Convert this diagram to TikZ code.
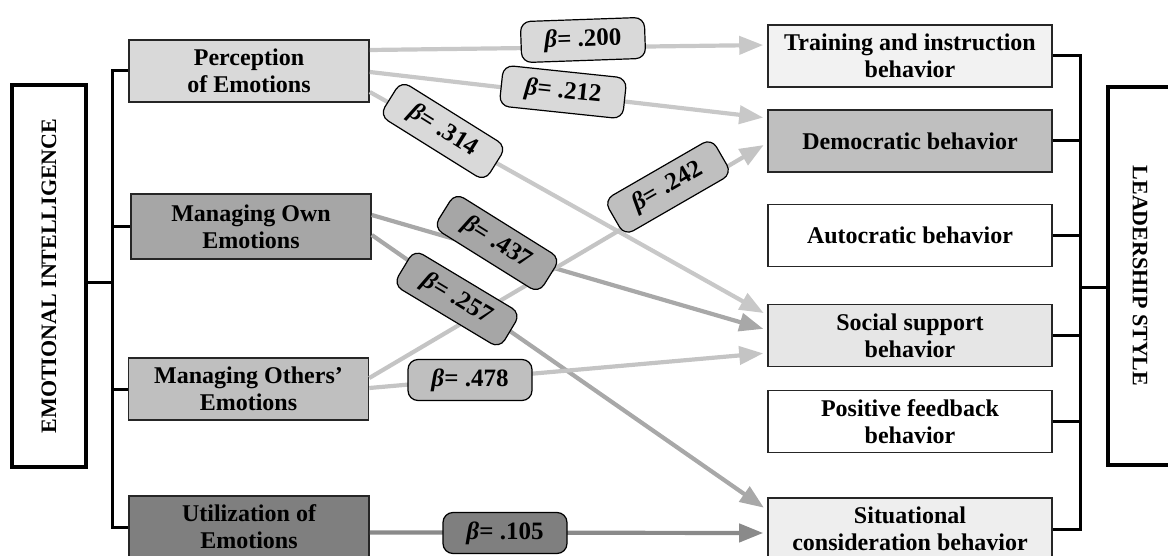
\documentclass[tikz,border=0pt]{standalone}
\usepackage{fontspec}
\setmainfont{Liberation Serif}
\usetikzlibrary{arrows.meta}

\definecolor{fPerc}{HTML}{D9D9D9}
\definecolor{fOwn}{HTML}{A6A6A6}
\definecolor{fOth}{HTML}{BFBFBF}
\definecolor{fUtil}{HTML}{7F7F7F}
\definecolor{fTrain}{HTML}{F2F2F2}
\definecolor{fDemo}{HTML}{BFBFBF}
\definecolor{fSoc}{HTML}{E6E6E6}
\definecolor{fSit}{HTML}{EEEEEE}
\definecolor{lPerc}{HTML}{C8C8C8}
\definecolor{lOwn}{HTML}{A8A8A8}
\definecolor{lOth}{HTML}{C4C4C4}
\definecolor{lUtil}{HTML}{8A8A8A}

\begin{document}
\begin{tikzpicture}[x=0.5pt,y=-0.5pt,
  box/.style={draw=black!85, line width=0.8pt, align=center, inner sep=0pt,
    minimum height=31pt, font=\fontsize{12}{13.5}\selectfont\bfseries},
  lbox/.style={box, minimum width=120pt},
  rbox/.style={box, minimum width=142pt},
  big/.style={draw=black, line width=1.6pt, fill=white, inner sep=0pt,
    font=\fontsize{11}{13}\selectfont\bfseries},
  brk/.style={draw=black, line width=1.5pt},
  arr/.style={line width=2.1pt, -{Triangle[length=12pt,width=9pt]}, shorten >=2pt},
  beta/.style={draw=black, line width=0.6pt, rounded corners=5pt, inner sep=0pt,
    minimum width=62pt, minimum height=20.5pt,
    font=\fontsize{12.5}{14}\selectfont\bfseries},
]
\clip (0,0) rectangle (1168,556);

% outer constructs
\node[big, rotate=90, minimum width=191pt, minimum height=37pt] (ei) at (49,276) {EMOTIONAL INTELLIGENCE};
\node[big, rotate=-90, minimum width=189pt, minimum height=32pt] (ls) at (1140,276) {LEADERSHIP STYLE};

% emotional intelligence dimensions
\node[lbox, fill=fPerc] (perc) at (249,71) {Perception\\of Emotions};
\node[lbox, fill=fOwn, minimum height=32.5pt] (own) at (251,226.5) {Managing Own\\Emotions};
\node[lbox, fill=fOth] (oth) at (248.5,389) {Managing Others'\\Emotions};
\node[lbox, fill=fUtil] (util) at (249,527) {Utilization of\\Emotions};

% leadership behaviours
\node[rbox, fill=fTrain] (train) at (910,56) {Training and instruction\\behavior};
\node[rbox, fill=fDemo] (demo) at (910,141) {Democratic behavior};
\node[rbox, fill=white] (auto) at (910,235.5) {Autocratic behavior};
\node[rbox, fill=fSoc] (soc) at (910,335.5) {Social support\\behavior};
\node[rbox, fill=white] (pos) at (910,421.5) {Positive feedback\\behavior};
\node[rbox, fill=fSit] (sit) at (910,529) {Situational\\consideration behavior};

% brackets
\coordinate (lx) at (112,0);
\coordinate (rx) at (1080,0);
\draw[brk] (perc.west) -| (lx |- util.west) -- (util.west);
\draw[brk] (own.west) -- (own.west -| lx);
\draw[brk] (oth.west) -- (oth.west -| lx);
\draw[brk] ([yshift=-3pt]ei.south) -- ([yshift=-3pt]ei.south -| lx);
\draw[brk] (train.east) -| (rx |- sit.east) -- (sit.east);
\draw[brk] (demo.east) -- (demo.east -| rx);
\draw[brk] (auto.east) -- (auto.east -| rx);
\draw[brk] (soc.east) -- (soc.east -| rx);
\draw[brk] (pos.east) -- (pos.east -| rx);
\draw[brk] ([yshift=-5.5pt]ls.south) -- ([yshift=-5.5pt]ls.south -| rx);

% paths
\draw[arr, lPerc] ([yshift=10.5pt]perc.east) -- ([yshift=5.5pt]train.west);
\draw[arr, lPerc] ([yshift=-0.5pt]perc.east) -- ([yshift=11.5pt]demo.west);
\draw[arr, lPerc] ([yshift=-10.5pt]perc.east) -- ([yshift=10.25pt]soc.west);
\draw[arr, lOwn] ([yshift=5.75pt]own.east) -- ([yshift=2.75pt]soc.west);
\draw[arr, lOwn] ([yshift=-4.25pt]own.east) -- ([yshift=9.5pt]sit.west);
\draw[arr, lOth] ([yshift=5.5pt]oth.east) -- ([yshift=-1pt]demo.west);
\draw[arr, lOth] ([yshift=0.5pt]oth.east) -- ([yshift=-8.75pt]soc.west);
\draw[arr, lUtil] ([yshift=-2.75pt]util.east) -- ([yshift=-2pt]sit.west);

% coefficients
\node[beta, fill=fPerc, rotate=2] (b200) at (583,40) {{\itshape β}= .200};
\node[beta, fill=fPerc, rotate=-6] (b212) at (563,92) {{\itshape β}= .212};
\node[beta, fill=fPerc, rotate=-32] (b314) at (443,131) {{\itshape β}= .314};
\node[beta, fill=fOwn, rotate=-32] (b437) at (497,243) {{\itshape β}= .437};
\node[beta, fill=fOwn, rotate=-31] (b257) at (457,299) {{\itshape β}= .257};
\node[beta, fill=fOth, rotate=30] (b242) at (668,187) {{\itshape β}= .242};
\node[beta, fill=fOth] (b478) at (470,380) {{\itshape β}= .478};
\node[beta, fill=fUtil] (b105) at (505,533) {{\itshape β}= .105};
\end{tikzpicture}
\end{document}
